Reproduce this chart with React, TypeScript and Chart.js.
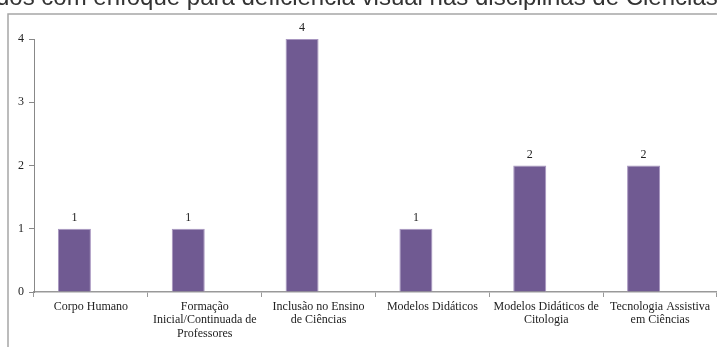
import React, { useEffect, useRef } from "react";
import { Chart, registerables } from "chart.js";

Chart.register(...registerables);

const categories: string[][] = [
  ["Corpo Humano"],
  ["Formação", "Inicial/Continuada de", "Professores"],
  ["Inclusão no Ensino", "de Ciências"],
  ["Modelos Didáticos"],
  ["Modelos Didáticos de", "Citologia"],
  ["Tecnologia Assistiva", "em Ciências"],
];
const values: number[] = [1, 1, 4, 1, 2, 2];
const emptySeries: (number | null)[] = [null, null, null, null, null, null];
const yTicks: number[] = [0, 1, 2, 3, 4];
const titleText = "dos com enfoque para deficiência visual nas disciplinas de Ciências";

const SERIF = "'Liberation Serif', 'Times New Roman', serif";

const decorPlugin = {
  id: "decor",
  beforeDraw(chart: any) {
    const ctx = chart.ctx;
    ctx.save();
    ctx.fillStyle = "#ffffff";
    ctx.fillRect(0, 0, chart.width, chart.height);
    // clipped title
    ctx.fillStyle = "#333333";
    ctx.font = "20px 'Liberation Sans', Arial, sans-serif";
    const w = ctx.measureText(titleText).width;
    const size = 20 * (722 / w);
    ctx.font = `${size}px 'Liberation Sans', Arial, sans-serif`;
    ctx.textAlign = "left";
    ctx.textBaseline = "alphabetic";
    ctx.fillText(titleText, -4, 5);
    // frame
    ctx.strokeStyle = "#a6a6a6";
    ctx.lineWidth = 1.5;
    ctx.beginPath();
    ctx.moveTo(8, chart.height + 2);
    ctx.lineTo(8, 14);
    ctx.lineTo(chart.width + 2, 14);
    ctx.stroke();
    ctx.restore();
  },
  afterDatasetsDraw(chart: any) {
    const ctx = chart.ctx;
    const meta = chart.getDatasetMeta(0);
    ctx.save();
    ctx.fillStyle = "#222222";
    ctx.font = `12px ${SERIF}`;
    ctx.textAlign = "center";
    ctx.textBaseline = "alphabetic";
    meta.data.forEach((bar: any, i: number) => {
      ctx.fillText(String(values[i]), bar.x, bar.y - 8);
    });
    ctx.restore();
  },
};

export default function App() {
  const ref = useRef<HTMLCanvasElement | null>(null);
  useEffect(() => {
    if (!ref.current) return;
    const chart = new Chart(ref.current, {
      type: "bar",
      data: {
        labels: categories,
        datasets: [
          {
            data: values,
            backgroundColor: "#705a92",
            borderColor: "#a896c0",
            borderWidth: 1,
          },
          {
            data: emptySeries,
            backgroundColor: "#9bbb59",
          },
        ],
      },
      options: {
        animation: false,
        responsive: false,
        maintainAspectRatio: false,
        layout: { padding: { top: 39, left: 0, right: 0, bottom: 0 } },
        plugins: {
          legend: { display: false },
          title: { display: false },
          tooltip: { enabled: false },
        },
        datasets: {
          bar: { categoryPercentage: 0.58, barPercentage: 1 },
        },
        scales: {
          x: {
            offset: true,
            grid: {
              display: true,
              drawOnChartArea: false,
              drawTicks: true,
              tickLength: 5,
              offset: true,
              color: "#999999",
            },
            border: { display: true, color: "#999999", width: 1.5 },
            ticks: {
              color: "#222222",
              font: { family: SERIF, size: 12, lineHeight: 1.12 },
              padding: 3,
              maxRotation: 0,
              minRotation: 0,
              autoSkip: false,
            },
            afterFit(scale: any) {
              scale.height = 55;
            },
          },
          y: {
            min: 0,
            max: 4,
            afterBuildTicks(scale: any) {
              scale.ticks = yTicks.map((v) => ({ value: v }));
            },
            grid: {
              display: true,
              drawOnChartArea: false,
              drawTicks: true,
              tickLength: 5,
              color: "#888888",
            },
            border: { display: true, color: "#888888", width: 1 },
            ticks: {
              color: "#222222",
              font: { family: SERIF, size: 12 },
              padding: 5,
            },
            afterFit(scale: any) {
              scale.width = 34;
            },
          },
        },
      },
      plugins: [decorPlugin],
    });
    return () => chart.destroy();
  }, []);
  return (
    <div style={{ position: "fixed", left: 0, top: 0, width: 717, height: 347 }}>
      <canvas ref={ref} width={717} height={347} style={{ width: 717, height: 347, display: "block" }} />
    </div>
  );
}
